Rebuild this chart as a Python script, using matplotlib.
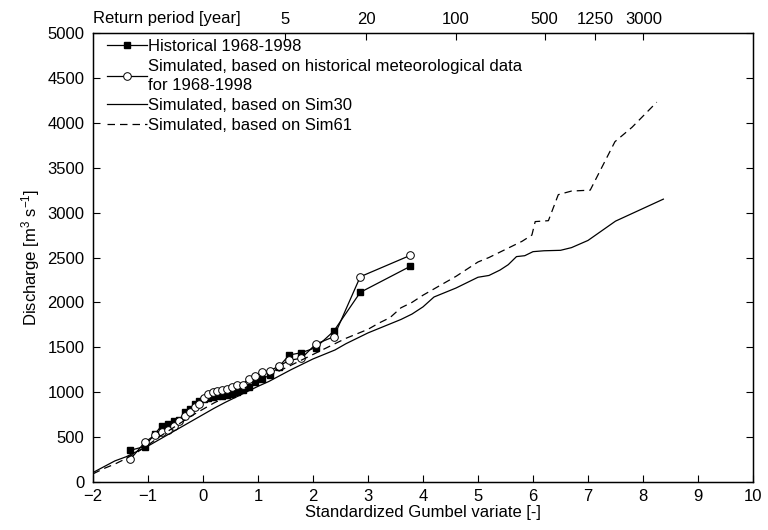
import numpy as np
import matplotlib.pyplot as plt

plt.rcParams['font.family'] = ['Liberation Sans', 'DejaVu Sans']
plt.rcParams['mathtext.fontset'] = 'custom'
plt.rcParams['mathtext.rm'] = 'Liberation Sans'
plt.rcParams['mathtext.it'] = 'Liberation Sans'

# Gumbel variate of the observed / simulated annual maxima (shared positions)
gumbel_obs = [-1.32, -1.06, -0.88, -0.75, -0.64, -0.53, -0.43, -0.33, -0.24, -0.15,
              -0.07, 0.02, 0.10, 0.18, 0.26, 0.35, 0.44, 0.53, 0.62, 0.72,
              0.83, 0.95, 1.08, 1.22, 1.38, 1.57, 1.79, 2.05, 2.38, 2.86, 3.77]
q_hist = [353, 395, 531, 627, 650, 676, 690, 783, 809, 869,
          905, 921, 940, 948, 955, 962, 970, 985, 1000, 1024,
          1060, 1110, 1150, 1190, 1284, 1414, 1440, 1496, 1681, 2112, 2402]
q_sim_hist = [253, 440, 520, 555, 575, 620, 680, 740, 780, 830,
              870, 930, 975, 1000, 1015, 1022, 1030, 1058, 1075, 1085,
              1150, 1175, 1220, 1240, 1290, 1355, 1378, 1535, 1618, 2286, 2524]

# Sim30
gumbel_30 = [-2.0, -1.8, -1.6, -1.4, -1.2, -1.0, -0.8, -0.6, -0.4, -0.2, 0.0, 0.2, 0.4,
             0.6, 0.8, 1.0, 1.2, 1.4, 1.6, 1.8, 2.0, 2.2, 2.4, 2.6, 2.8, 3.0, 3.2, 3.4,
             3.6, 3.8, 4.0, 4.2, 4.4, 4.6, 4.8, 5.0, 5.2, 5.4, 5.55, 5.7, 5.85, 6.0,
             6.2, 6.5, 6.7, 7.0, 7.5, 8.37]
q_30 = [105, 170, 235, 280, 340, 400, 470, 540, 610, 680, 750, 820, 885,
        945, 1005, 1065, 1120, 1185, 1250, 1310, 1370, 1420, 1470, 1540, 1600, 1660, 1710, 1760,
        1810, 1870, 1950, 2060, 2110, 2160, 2220, 2280, 2300, 2360, 2420, 2510, 2520, 2565,
        2575, 2580, 2610, 2690, 2905, 3150]

# Sim61
gumbel_61 = [-2.0, -1.8, -1.6, -1.4, -1.2, -1.0, -0.8, -0.6, -0.4, -0.2, 0.0, 0.2, 0.4,
             0.6, 0.8, 1.0, 1.2, 1.4, 1.6, 1.8, 2.0, 2.2, 2.4, 2.6, 2.8, 3.0, 3.2, 3.4,
             3.6, 3.8, 4.0, 4.2, 4.4, 4.6, 4.8, 5.0, 5.2, 5.4, 5.6, 5.8, 5.98, 6.04,
             6.28, 6.46, 6.7, 7.04, 7.49, 7.8, 8.25]
q_61 = [90, 150, 200, 260, 330, 410, 500, 580, 660, 740, 810, 880, 940,
        1000, 1060, 1120, 1180, 1240, 1300, 1360, 1420, 1480, 1540, 1600, 1650, 1700, 1770, 1830,
        1940, 2000, 2080, 2150, 2220, 2290, 2370, 2450, 2500, 2560, 2620, 2680, 2750, 2900,
        2910, 3200, 3240, 3250, 3790, 3950, 4230]

return_periods = [5, 20, 100, 500, 1250, 3000]

fig = plt.figure(figsize=(7.68, 5.3), dpi=100)
ax = fig.add_axes([0.121, 0.0906, 0.8595, 0.8471])

ax.plot(gumbel_obs, q_hist, '-', color='black', lw=0.9, marker='s', ms=4.5,
        mfc='black', label='Historical 1968-1998')
ax.plot(gumbel_obs, q_sim_hist, '-', color='black', lw=0.9, marker='o', ms=5.5,
        mfc='white', mew=0.7,
        label='Simulated, based on historical meteorological data\nfor 1968-1998')
ax.plot(gumbel_30, q_30, '-', color='black', lw=0.9, label='Simulated, based on Sim30')
ax.plot(gumbel_61, q_61, '--', color='black', lw=0.9, dashes=(6, 4),
        label='Simulated, based on Sim61')

ax.set_xlim(-2, 10)
ax.set_ylim(0, 5000)
ax.set_xticks(np.arange(-2, 11, 1))
ax.set_yticks(np.arange(0, 5001, 500))
ax.tick_params(direction='in', labelsize=12, length=5, right=True)
ax.tick_params(axis='y', pad=6)
ax.tick_params(axis='x', pad=5)
ax.set_xlabel('Standardized Gumbel variate [-]', fontsize=12, labelpad=1)
ax.set_ylabel(r'Discharge [m$^3$ s$^{-1}$]', fontsize=12, labelpad=4)
for s in ax.spines.values():
    s.set_linewidth(1)

# return period axis on top
top = ax.twiny()
top.set_xlim(ax.get_xlim())
top.set_xticks([-np.log(-np.log(1 - 1 / t)) for t in return_periods])
top.set_xticklabels([str(t) for t in return_periods])
top.tick_params(direction='in', labelsize=12, length=5, pad=4)
fig.text(0.121, 0.965, 'Return period [year]', fontsize=12, va='center', ha='left')

leg = ax.legend(loc='upper left', frameon=False, fontsize=12, handlelength=2.4,
                handletextpad=0.1, borderaxespad=0.05, labelspacing=0.3,
                borderpad=0.3, bbox_to_anchor=(0.012, 1.0))
for t in leg.get_texts():
    t.set_linespacing(1.35)

fig.savefig('out.png', dpi=100)
